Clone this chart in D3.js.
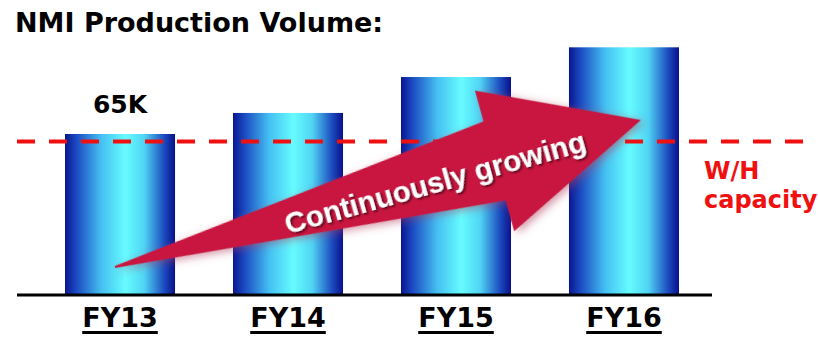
<!DOCTYPE html>
<html lang="en">
  <head>
    <meta charset="UTF-8" />
    <title>NMI Production Volume</title>
    <script src="https://cdn.jsdelivr.net/npm/d3@7.6.1/dist/d3.min.js"></script>
    <style>
      body { margin: 0; background: #fff; }
      svg { display: block; }
    </style>
  </head>
  <body>
    <div id="box"></div>
    <script>
      const width = 818;
      const height = 337;

      // data (K units)
      const categories = ['FY13', 'FY14', 'FY15', 'FY16'];
      const volumes = [65, 73.5, 88, 100];
      const labels = ['65K', '', '', ''];
      const capacity = 62;

      const svg = d3.select('#box').append('svg').attr('width', width).attr('height', height);
      const defs = svg.append('defs');

      // horizontal blue/cyan gradient for the bars
      const grad = defs.append('linearGradient').attr('id', 'barGrad')
        .attr('x1', '0%').attr('x2', '100%').attr('y1', '0%').attr('y2', '0%');
      [[0, '#0a1690'], [0.1, '#1a48c0'], [0.33, '#45c0f2'], [0.55, '#66fcff'],
       [0.72, '#50d4f4'], [0.9, '#1c4cc0'], [1, '#0a108a']]
        .forEach(([o, c]) => grad.append('stop').attr('offset', o).attr('stop-color', c));

      // soft glow + shadow for the arrow
      const f = defs.append('filter').attr('id', 'glow')
        .attr('x', '-10%').attr('y', '-20%').attr('width', '120%').attr('height', '140%');
      f.append('feGaussianBlur').attr('in', 'SourceAlpha').attr('stdDeviation', 4).attr('result', 'b');
      f.append('feOffset').attr('in', 'b').attr('dx', 3).attr('dy', 3).attr('result', 'o');
      f.append('feFlood').attr('flood-color', '#b04060').attr('flood-opacity', 0.55);
      f.append('feComposite').attr('in2', 'o').attr('operator', 'in').attr('result', 's');
      const m = f.append('feMerge');
      m.append('feMergeNode').attr('in', 's');
      m.append('feMergeNode').attr('in', 'SourceGraphic');

      const ts = defs.append('filter').attr('id', 'tshadow')
        .attr('x', '-10%').attr('y', '-30%').attr('width', '120%').attr('height', '160%');
      ts.append('feDropShadow').attr('dx', 1.5).attr('dy', 2).attr('stdDeviation', 0.8)
        .attr('flood-color', '#3a0010').attr('flood-opacity', 0.8);

      // scales
      const x = d3.scaleBand().domain(categories).range([65, 679]).paddingInner(0.345).paddingOuter(0);
      const y = d3.scaleLinear().domain([0, 65]).range([295, 134]);

      // title
      svg.append('text').attr('x', 15).attr('y', 32)
        .attr('font-family', 'Tahoma, "DejaVu Sans", sans-serif').attr('font-weight', 'bold')
        .attr('font-size', 27).attr('fill', '#000').text('NMI Production Volume:');

      // bars
      svg.selectAll('.bar').data(volumes).enter().append('rect')
        .attr('class', 'bar')
        .attr('x', (d, i) => x(categories[i]))
        .attr('y', d => y(d))
        .attr('width', x.bandwidth())
        .attr('height', d => y(0) - y(d))
        .attr('fill', 'url(#barGrad)');

      // value label
      svg.selectAll('.val').data(labels).enter().append('text')
        .attr('class', 'val')
        .attr('x', (d, i) => x(categories[i]) + x.bandwidth() / 2)
        .attr('y', (d, i) => y(volumes[i]) - 21)
        .attr('text-anchor', 'middle')
        .attr('font-family', '"DejaVu Sans", sans-serif').attr('font-weight', 'bold')
        .attr('font-size', 25).text(d => d);

      // baseline
      svg.append('line').attr('x1', 17).attr('x2', 712)
        .attr('y1', y(0)).attr('y2', y(0))
        .attr('stroke', '#000').attr('stroke-width', 3);

      // capacity line
      svg.append('line').attr('x1', 17).attr('x2', 812)
        .attr('y1', y(capacity)).attr('y2', y(capacity))
        .attr('stroke', '#f01010').attr('stroke-width', 4)
        .attr('stroke-dasharray', '18 14');

      svg.append('text').attr('x', 704).attr('y', 179)
        .attr('font-family', '"DejaVu Sans", sans-serif').attr('font-weight', 'bold')
        .attr('font-size', 24).attr('fill', '#f01010')
        .selectAll('tspan').data(['W/H', 'capacity']).enter().append('tspan')
        .attr('x', 704).attr('dy', (d, i) => i ? 29 : 0).text(d => d);

      // category labels (underlined)
      const cat = svg.selectAll('.cat').data(categories).enter().append('g').attr('class', 'cat')
        .attr('transform', d => `translate(${x(d) + x.bandwidth() / 2},0)`);
      cat.append('text').attr('y', 327).attr('text-anchor', 'middle')
        .attr('font-family', '"DejaVu Sans", sans-serif').attr('font-weight', 'bold')
        .attr('font-size', 27).attr('fill', '#000').text(d => d);
      cat.each(function () {
        const g = d3.select(this);
        const w = g.select('text').node().getComputedTextLength();
        g.append('rect').attr('x', -w / 2).attr('y', 331).attr('width', w).attr('height', 3).attr('fill', '#000');
      });

      // growth arrow: drawn along its own axis, then rotated into place
      const tail = [115, 267];
      const tip = [641, 120];
      const len = Math.hypot(tip[0] - tail[0], tip[1] - tail[1]);
      const ang = Math.atan2(tip[1] - tail[1], tip[0] - tail[0]) * 180 / Math.PI;
      const head = len - 152;
      const arrowPts = [[0, -1], [head, -41], [head, -73], [len, 0], [head, 73], [head, 41], [0, 1]];
      const arrow = svg.append('g').attr('transform', `translate(${tail}) rotate(${ang})`);
      arrow.append('path').attr('d', d3.line()(arrowPts) + 'Z')
        .attr('fill', '#c8163f').attr('filter', 'url(#glow)');
      arrow.append('text').attr('x', 331).attr('y', 15).attr('text-anchor', 'middle')
        .attr('font-family', '"Liberation Sans", Arial, sans-serif').attr('font-weight', 'bold')
        .attr('font-size', 29.5).attr('fill', '#fff').attr('filter', 'url(#tshadow)')
        .text('Continuously growing');
    </script>
  </body>
</html>
